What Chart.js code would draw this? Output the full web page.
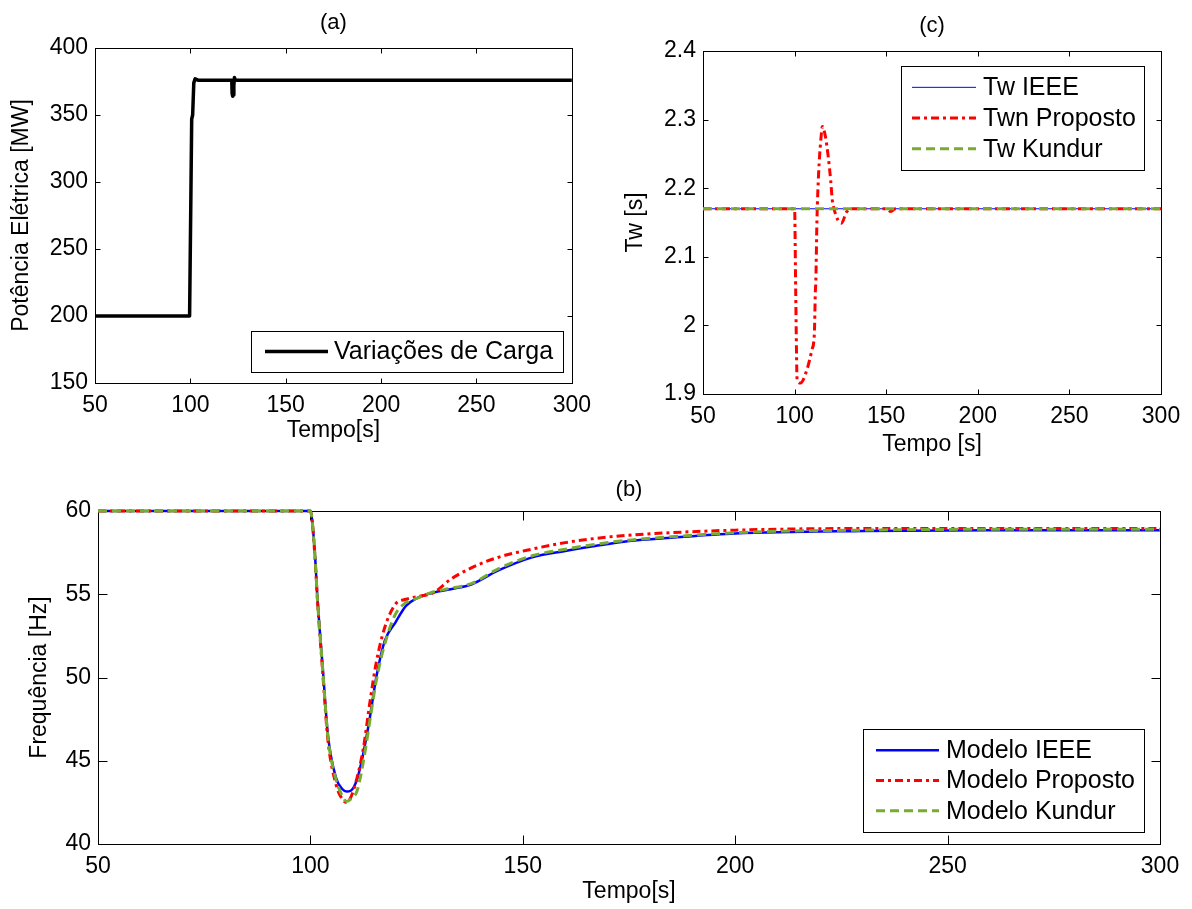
<!DOCTYPE html>
<html lang="pt">
<head>
  <meta charset="UTF-8" />
  <title>Potência, Tw e Frequência</title>
  <script src="https://cdn.jsdelivr.net/npm/chart.js"></script>
  <style>
    body { margin: 0; background: #fff; }
    canvas { position: absolute; }
  </style>
</head>
<body>
  <canvas id="chartA" width="600" height="448" style="left:0;top:0"></canvas>
  <canvas id="chartC" width="592" height="460" style="left:600px;top:0"></canvas>
  <canvas id="chartB" width="1192" height="459" style="left:0;top:450px"></canvas>

  <script>
    // (a) load change
    const tA = [50, 99.6, 100.2, 100.7, 101.2, 101.8, 102.5, 104, 121.7, 121.9, 122.2, 122.5, 122.8, 123.1, 123.6, 300];
    const powerA = [200, 200, 280, 347, 350, 374, 377, 376, 376, 366, 364, 365, 372, 378, 376, 376];

    // (c) Tw
    const tTw = [50, 100, 100.6, 101.4, 103.2, 106.8, 109.5, 110.8, 111.3, 111.6, 112.2, 113.1, 114.3, 115.2, 116.7, 118.4, 119.7, 120.6, 121.5, 123.8, 125.6, 128.3, 131, 150, 152.5, 155, 300];
    const twnProposto = [2.17, 2.17, 2.05, 1.92, 1.916, 1.936, 1.965, 1.989, 2.047, 2.066, 2.153, 2.221, 2.27, 2.29, 2.277, 2.245, 2.211, 2.182, 2.17, 2.153, 2.149, 2.165, 2.17, 2.17, 2.166, 2.17, 2.17];
    const tTwFlat = [50, 300];
    const twIeee = [2.17, 2.17];
    const twKundur = [2.17, 2.17];

    // (b) frequency
    const tF = [50, 100, 101, 101.7, 102.9, 104.1, 106, 107.5, 108.5, 109.5, 111, 112.5, 114, 115.5, 117.5, 120, 122.5, 125, 129, 133, 138, 144, 152, 160, 167, 175, 185, 200, 230, 260, 300];
    const fIeee = [60, 60, 57.65, 54.6, 50.6, 46.6, 44.0, 43.3, 43.15, 43.2, 43.9, 45.5, 47.6, 50.0, 52.2, 53.3, 54.3, 54.75, 55.1, 55.3, 55.6, 56.4, 57.2, 57.6, 57.9, 58.2, 58.4, 58.65, 58.8, 58.85, 58.85];
    const fProposto = [60, 60, 57.5, 54.5, 50.3, 46.3, 43.6, 42.7, 42.5, 42.8, 44.0, 45.8, 48.5, 50.9, 53.0, 54.4, 54.7, 54.85, 55.1, 55.9, 56.6, 57.2, 57.7, 58.1, 58.35, 58.55, 58.7, 58.85, 58.95, 58.95, 58.95];
    const fKundur = [60, 60, 57.6, 54.5, 50.5, 46.5, 43.9, 42.9, 42.55, 42.7, 43.2, 45.0, 47.4, 49.8, 52.0, 53.8, 54.5, 54.75, 55.15, 55.35, 55.65, 56.5, 57.3, 57.7, 58.0, 58.25, 58.45, 58.7, 58.85, 58.9, 58.9];

    const xTicks = [50, 100, 150, 200, 250, 300];
    const yTicksA = [150, 200, 250, 300, 350, 400];
    const yTicksC = [1.9, 2, 2.1, 2.2, 2.3, 2.4];
    const yTicksB = [40, 45, 50, 55, 60];

    const FONT = "Arial, 'Liberation Sans', sans-serif";
    Chart.defaults.font.family = FONT;
    Chart.defaults.color = '#000';

    const BLUE = '#0000ff', RED = '#ff0000', GREEN = '#77ac30';
    const DASHDOT = [8, 4, 3, 4], DASH = [9, 5];

    const pts = (xs, ys) => xs.map((x, i) => ({ x, y: ys[i] }));
    const fmt = v => String(Math.round(v * 10) / 10);

    function xAxis(ticks, title, height, titlePad) {
      return {
        type: 'linear', min: ticks[0], max: ticks[ticks.length - 1],
        afterBuildTicks: s => { s.ticks = ticks.map(v => ({ value: v })); },
        afterFit: s => { s.height = height; },
        grid: { display: false, drawTicks: false },
        border: { display: false },
        ticks: { font: { size: 23 }, padding: 9, maxRotation: 0, autoSkip: false, callback: fmt },
        title: { display: true, text: title, font: { size: 23 }, padding: { top: 0, bottom: titlePad } }
      };
    }
    function yAxis(ticks, title, width, titlePad) {
      return {
        min: ticks[0], max: ticks[ticks.length - 1],
        afterBuildTicks: s => { s.ticks = ticks.map(v => ({ value: v })); },
        afterFit: s => { s.width = width; },
        grid: { display: false, drawTicks: false },
        border: { display: false },
        ticks: { font: { size: 23 }, padding: 7, autoSkip: false, callback: fmt },
        title: { display: true, text: title, font: { size: 23 }, padding: { top: titlePad, bottom: 0 } }
      };
    }

    // MATLAB style box, inner ticks, panel title and boxed legend
    const matlabBox = {
      id: 'matlabBox',
      beforeDatasetsDraw(chart, args, o) {
        const { ctx, chartArea: a, scales: { x, y } } = chart;
        ctx.save();
        ctx.strokeStyle = '#000';
        ctx.lineWidth = 1;
        const L = Math.round(a.left) + 0.5, R = Math.round(a.right) + 0.5;
        const T = Math.round(a.top) + 0.5, B = Math.round(a.bottom) + 0.5;
        ctx.strokeRect(L, T, R - L, B - T);
        ctx.beginPath();
        x.ticks.forEach(t => {
          const p = Math.round(x.getPixelForValue(t.value)) + 0.5;
          ctx.moveTo(p, B); ctx.lineTo(p, B - o.tick);
          ctx.moveTo(p, T); ctx.lineTo(p, T + o.tick);
        });
        y.ticks.forEach(t => {
          const p = Math.round(y.getPixelForValue(t.value)) + 0.5;
          ctx.moveTo(L, p); ctx.lineTo(L + o.tick, p);
          ctx.moveTo(R, p); ctx.lineTo(R - o.tick, p);
        });
        ctx.stroke();
        ctx.fillStyle = '#000';
        ctx.font = '22px ' + FONT;
        ctx.textAlign = 'center';
        ctx.textBaseline = 'middle';
        ctx.fillText(o.title, (a.left + a.right) / 2, a.top - o.titleGap);
        ctx.restore();
      },
      afterDatasetsDraw(chart, args, o) {
        const g = o.legend;
        if (!g) return;
        const { ctx, chartArea: a } = chart;
        const left = Math.round(a.right - g.right - g.w);
        const top = Math.round(g.top != null ? a.top + g.top : a.bottom - g.bottom - g.h);
        ctx.save();
        ctx.fillStyle = '#fff';
        ctx.fillRect(left, top, g.w, g.h);
        ctx.strokeStyle = '#000';
        ctx.lineWidth = 1;
        ctx.strokeRect(left + 0.5, top + 0.5, g.w, g.h);
        const ds = chart.data.datasets;
        ds.forEach((d, i) => {
          const cy = top + g.inset + (g.h - 2 * g.inset) * (i + 0.5) / ds.length;
          ctx.beginPath();
          ctx.strokeStyle = d.borderColor;
          ctx.lineWidth = d.borderWidth;
          ctx.setLineDash(d.borderDash || []);
          ctx.moveTo(left + g.lineX, cy);
          ctx.lineTo(left + g.lineX + g.lineLen, cy);
          ctx.stroke();
          ctx.setLineDash([]);
          ctx.fillStyle = '#000';
          ctx.font = '25px ' + FONT;
          ctx.textAlign = 'left';
          ctx.textBaseline = 'middle';
          ctx.fillText(d.label, left + g.textX, cy + 1);
        });
        ctx.restore();
      }
    };

    const lineDefaults = { pointRadius: 0, fill: false, clip: false, borderJoinStyle: 'round' };

    new Chart(document.getElementById('chartA'), {
      type: 'line',
      data: {
        datasets: [
          { ...lineDefaults, label: 'Variações de Carga', data: pts(tA, powerA), borderColor: '#000', borderWidth: 3.5, tension: 0 }
        ]
      },
      options: {
        responsive: false, animation: false,
        layout: { padding: { top: 48, right: 26, left: 0, bottom: 0 } },
        scales: {
          x: xAxis(xTicks, 'Tempo[s]', 65, 4),
          y: yAxis(yTicksA, 'Potência Elétrica [MW]', 95, 8)
        },
        plugins: {
          legend: { display: false }, tooltip: { enabled: false },
          matlabBox: { tick: 5, title: '(a)', titleGap: 25,
            legend: { right: 9, bottom: 11, w: 312, h: 41, inset: 0, lineX: 14, lineLen: 63, textX: 83 } }
        }
      },
      plugins: [matlabBox]
    });

    new Chart(document.getElementById('chartC'), {
      type: 'line',
      data: {
        datasets: [
          { ...lineDefaults, label: 'Tw IEEE', data: pts(tTwFlat, twIeee), borderColor: BLUE, borderWidth: 1, order: 3 },
          { ...lineDefaults, label: 'Twn Proposto', data: pts(tTw, twnProposto), borderColor: RED, borderWidth: 3, borderDash: DASHDOT, cubicInterpolationMode: 'monotone', order: 2 },
          { ...lineDefaults, label: 'Tw Kundur', data: pts(tTwFlat, twKundur), borderColor: GREEN, borderWidth: 3, borderDash: DASH, order: 1 }
        ]
      },
      options: {
        responsive: false, animation: false,
        layout: { padding: { top: 51, right: 31, left: 0, bottom: 0 } },
        scales: {
          x: xAxis(xTicks, 'Tempo [s]', 66, 2),
          y: yAxis(yTicksC, 'Tw [s]', 103, 22)
        },
        plugins: {
          legend: { display: false }, tooltip: { enabled: false },
          matlabBox: { tick: 5, title: '(c)', titleGap: 25,
            legend: { right: 17, top: 15, w: 243, h: 104, inset: 6, lineX: 11, lineLen: 64, textX: 82 } }
        }
      },
      plugins: [matlabBox]
    });

    new Chart(document.getElementById('chartB'), {
      type: 'line',
      data: {
        datasets: [
          { ...lineDefaults, label: 'Modelo IEEE', data: pts(tF, fIeee), borderColor: BLUE, borderWidth: 2.5, cubicInterpolationMode: 'monotone', order: 3 },
          { ...lineDefaults, label: 'Modelo Proposto', data: pts(tF, fProposto), borderColor: RED, borderWidth: 3, borderDash: DASHDOT, cubicInterpolationMode: 'monotone', order: 2 },
          { ...lineDefaults, label: 'Modelo Kundur', data: pts(tF, fKundur), borderColor: GREEN, borderWidth: 3, borderDash: DASH, cubicInterpolationMode: 'monotone', order: 1 }
        ]
      },
      options: {
        responsive: false, animation: false,
        layout: { padding: { top: 61, right: 32, left: 0, bottom: 0 } },
        scales: {
          x: xAxis(xTicks, 'Tempo[s]', 65, 4),
          y: yAxis(yTicksB, 'Frequência [Hz]', 98, 26)
        },
        plugins: {
          legend: { display: false }, tooltip: { enabled: false },
          matlabBox: { tick: 9, title: '(b)', titleGap: 21,
            legend: { right: 16, bottom: 12, w: 281, h: 103, inset: 6, lineX: 13, lineLen: 63, textX: 83 } }
        }
      },
      plugins: [matlabBox]
    });
  </script>
</body>
</html>
